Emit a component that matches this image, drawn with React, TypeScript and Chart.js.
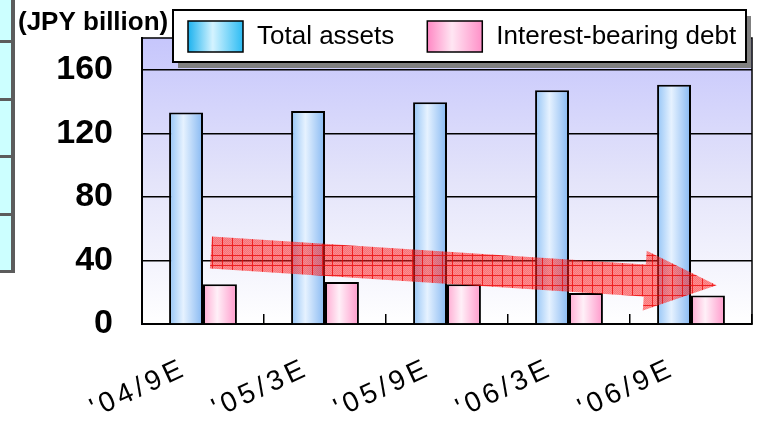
import { useEffect, useRef } from "react";
import { Chart, registerables } from "chart.js";

Chart.register(...registerables);

// ---- data ----
const CATEGORIES = ["'04/9E", "'05/3E", "'05/9E", "'06/3E", "'06/9E"];
const SERIES_LABELS = ["Total assets", "Interest-bearing debt"];
const TOTAL_ASSETS = [133, 134, 139.5, 147, 150.5];
const INTEREST_DEBT = [25, 26.5, 25, 19.5, 18];
const Y_MIN = 0;
const Y_MAX = 180;
const Y_STEP = 40;
const UNIT_LABEL = "(JPY billion)";
// trend arrow, in data coordinates (category index, value)
const TREND_START = [0.065, 45];
const TREND_END = [4.21, 24.4];

const FONT = '"Liberation Sans", Arial, Helvetica, sans-serif';

// horizontal "cylinder" gradients for bars and legend swatches
const BAR_STOPS: [number, string][][] = [
  [
    [0, "#94c4f6"],
    [0.42, "#e6f2ff"],
    [1, "#86b8f2"],
  ],
  [
    [0, "#ffaad2"],
    [0.42, "#fff0f8"],
    [1, "#ff98ca"],
  ],
];
const SWATCH_STOPS: [number, string][][] = [
  [
    [0, "#1cb2ee"],
    [0.45, "#d4f3ff"],
    [1, "#2cbcf4"],
  ],
  [
    [0, "#ff88c4"],
    [0.45, "#ffe6f3"],
    [1, "#ff90c8"],
  ],
];

function hGradient(ctx: CanvasRenderingContext2D, left: number, width: number, stops: [number, string][]) {
  const g = ctx.createLinearGradient(left, 0, left + width, 0);
  stops.forEach(([o, c]) => g.addColorStop(o, c));
  return g;
}

function makeHatch(ctx: CanvasRenderingContext2D) {
  const tile = document.createElement("canvas");
  tile.width = 10;
  tile.height = 10;
  const t = tile.getContext("2d")!;
  t.fillStyle = "rgba(255,40,40,0.5)";
  t.fillRect(0, 0, 10, 10);
  t.fillStyle = "rgba(255,0,0,0.2)";
  for (let y = 0; y < 10; y++) {
    for (let x = 0; x < 10; x++) {
      if ((x + y) % 2 === 0) t.fillRect(x, y, 1, 1);
    }
  }
  t.fillStyle = "rgba(235,0,0,0.75)";
  t.fillRect(0, 0, 10, 1);
  t.fillRect(0, 1, 1, 9);
  const p = ctx.createPattern(tile, "repeat")!;
  p.setTransform(new DOMMatrix().translate(2, 5));
  return p;
}

const plotDecor = {
  id: "plotDecor",
  beforeDraw(chart: any) {
    const { ctx, chartArea: a } = chart;
    const g = ctx.createLinearGradient(0, a.top, 0, a.bottom);
    g.addColorStop(0, "#c6c6fc");
    g.addColorStop(0.5, "#e4e4fa");
    g.addColorStop(1, "#ffffff");
    ctx.save();
    ctx.fillStyle = g;
    ctx.fillRect(a.left, a.top, a.right - a.left, a.bottom - a.top);
    ctx.restore();
  },
  beforeDatasetsDraw(chart: any) {
    const { ctx, chartArea: a } = chart;
    // frame on top / right of the plot
    ctx.save();
    ctx.strokeStyle = "#000";
    ctx.lineWidth = 1.5;
    ctx.beginPath();
    ctx.moveTo(a.left, a.top);
    ctx.lineTo(a.right, a.top);
    ctx.lineTo(a.right, a.bottom);
    ctx.stroke();
    ctx.restore();
    // bar fills
    chart.data.datasets.forEach((_ds: any, i: number) => {
      const meta = chart.getDatasetMeta(i);
      meta.data.forEach((el: any) => {
        const { x, width } = el.getProps(["x", "width"], true);
        el.options.backgroundColor = hGradient(ctx, x - width / 2, width, BAR_STOPS[i]);
      });
    });
  },
  afterDatasetsDraw(chart: any) {
    const { ctx, scales } = chart;
    const xs = scales.x;
    const ys = scales.y;
    const x0 = xs.getPixelForValue(TREND_START[0]);
    const y0 = ys.getPixelForValue(TREND_START[1]);
    const x1 = xs.getPixelForValue(TREND_END[0]);
    const y1 = ys.getPixelForValue(TREND_END[1]);
    const dx = x1 - x0;
    const dy = y1 - y0;
    const len = Math.hypot(dx, dy);
    const ux = dx / len;
    const uy = dy / len;
    const nx = -uy;
    const ny = ux;
    const shaft = 16;
    const head = 30;
    const headLen = 72;
    const bx = x1 - ux * headLen;
    const by = y1 - uy * headLen;
    ctx.save();
    ctx.fillStyle = makeHatch(ctx);
    ctx.beginPath();
    ctx.moveTo(x0 + nx * shaft, y0 + ny * shaft);
    ctx.lineTo(bx + nx * shaft, by + ny * shaft);
    ctx.lineTo(bx + nx * head, by + ny * head);
    ctx.lineTo(x1, y1);
    ctx.lineTo(bx - nx * head, by - ny * head);
    ctx.lineTo(bx - nx * shaft, by - ny * shaft);
    ctx.lineTo(x0 - nx * shaft, y0 - ny * shaft);
    ctx.closePath();
    ctx.fill();
    ctx.restore();
    // category labels below are drawn next (ticks z > 0) with wider tracking
    ctx.letterSpacing = "4px";
  },
  afterDraw(chart: any) {
    const { ctx, chartArea: a } = chart;
    ctx.letterSpacing = "0px";
    const left = a.left + 31;
    const top = 10;
    const w = 573;
    const h = 52;
    ctx.save();
    ctx.fillStyle = "#808080";
    ctx.fillRect(left + 5, top + 6, w, h);
    ctx.fillStyle = "#ffffff";
    ctx.fillRect(left, top, w, h);
    ctx.strokeStyle = "#000";
    ctx.lineWidth = 2;
    ctx.strokeRect(left, top, w, h);
    ctx.font = `26px ${FONT}`;
    ctx.textBaseline = "middle";
    ctx.textAlign = "left";
    let x = left + 15;
    const sw = 55;
    const sh = 31;
    const sy = top + 11;
    chart.data.datasets.forEach((ds: any, i: number) => {
      ctx.fillStyle = hGradient(ctx, x, sw, SWATCH_STOPS[i]);
      ctx.fillRect(x, sy, sw, sh);
      ctx.lineWidth = 1.5;
      ctx.strokeStyle = "#000";
      ctx.strokeRect(x, sy, sw, sh);
      ctx.fillStyle = "#000";
      ctx.fillText(ds.label, x + sw + 14, top + h / 2 + 1);
      x += sw + 14 + ctx.measureText(ds.label).width + 33;
    });
    ctx.restore();
  },
};

function SidePanel() {
  const cyan = "#ccffff";
  const edge = "#5c5c5c";
  const seps = [40, 98, 155, 213];
  return (
    <>
      <div style={{ position: "absolute", left: 0, top: 0, width: 11, height: 270, background: cyan }} />
      <div style={{ position: "absolute", left: 11, top: 0, width: 4, height: 273, background: edge }} />
      <div style={{ position: "absolute", left: 0, top: 270, width: 15, height: 3, background: edge }} />
      {seps.map((t) => (
        <div key={t} style={{ position: "absolute", left: 0, top: t, width: 11, height: 3, background: edge }} />
      ))}
    </>
  );
}

export default function App() {
  const canvasRef = useRef<HTMLCanvasElement | null>(null);

  useEffect(() => {
    const canvas = canvasRef.current;
    if (!canvas) return;
    const chart = new Chart(canvas, {
      type: "bar",
      data: {
        labels: CATEGORIES,
        datasets: [
          {
            label: SERIES_LABELS[0],
            data: TOTAL_ASSETS,
            backgroundColor: () => "#c4e0ff",
            borderColor: "#000",
            borderWidth: 2,
          },
          {
            label: SERIES_LABELS[1],
            data: INTEREST_DEBT,
            backgroundColor: () => "#ffd0e8",
            borderColor: "#000",
            borderWidth: 2,
          },
        ],
      },
      plugins: [plotDecor],
      options: {
        responsive: false,
        animation: false,
        layout: { padding: { left: 18, right: 9, top: 0, bottom: 0 } },
        datasets: {
          bar: { categoryPercentage: 0.556, barPercentage: 1 },
        },
        plugins: {
          legend: { display: false },
          tooltip: { enabled: false },
          title: {
            display: true,
            text: UNIT_LABEL,
            align: "start",
            color: "#000",
            font: { family: FONT, size: 26, weight: "bold", lineHeight: 1.15 },
            padding: { top: 8, bottom: 0 },
          },
        },
        scales: {
          x: {
            offset: true,
            grid: {
              display: true,
              drawOnChartArea: false,
              drawTicks: true,
              tickLength: -10,
              color: "#000",
              lineWidth: 1.5,
              offset: true,
            },
            border: { display: true, color: "#000", width: 2 },
            ticks: {
              z: 1,
              color: "#000",
              font: { family: FONT, size: 28 },
              minRotation: 25,
              maxRotation: 25,
              autoSkip: false,
              padding: 38,
              labelOffset: -18,
            },
            afterFit: (scale: any) => {
              scale.height = 100;
            },
          },
          y: {
            min: Y_MIN,
            max: Y_MAX,
            grid: { color: "#000", lineWidth: 1.5, drawTicks: false },
            border: { display: true, color: "#000", width: 2 },
            ticks: {
              stepSize: Y_STEP,
              includeBounds: false,
              color: "#000",
              padding: 29,
              font: { family: FONT, size: 34, weight: "bold" },
            },
            afterFit: (scale: any) => {
              scale.width = 124;
              scale.paddingTop = 0;
              scale.paddingBottom = 0;
            },
          },
        },
      },
    } as any);
    return () => chart.destroy();
  }, []);

  return (
    <div style={{ position: "fixed", left: 0, top: 0, width: 761, height: 424, background: "#fff" }}>
      <canvas ref={canvasRef} width={761} height={424} style={{ position: "absolute", left: 0, top: 0, display: "block" }} />
      <SidePanel />
    </div>
  );
}
